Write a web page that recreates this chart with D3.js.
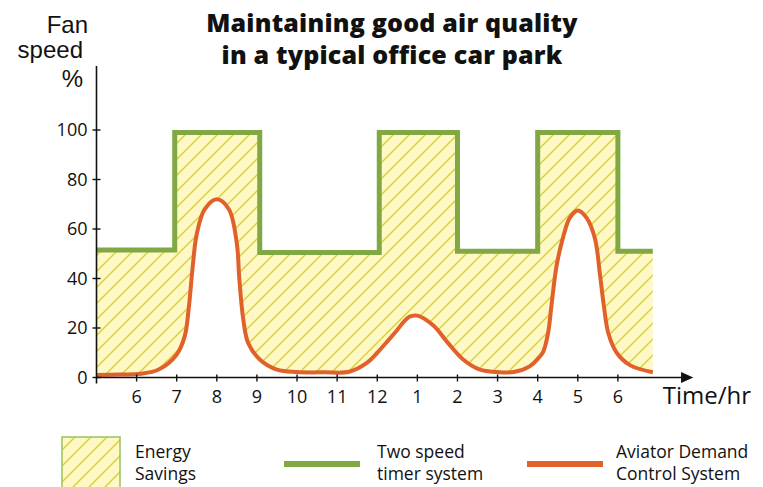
<!DOCTYPE html>
<html>
<head>
<meta charset="utf-8">
<script src="https://cdn.jsdelivr.net/npm/d3@7"></script>
<style>
  html, body { margin: 0; padding: 0; background: #fff; }
  svg { display: block; font-family: "Open Sans", "Noto Sans", sans-serif; }
</style>
</head>
<body>
<svg id="chart" width="763" height="487"></svg>
<script>
// Hour-of-day tick positions (5 = 5 am ... 18 = 6 pm) and their labels
const tickHours = [6, 7, 8, 9, 10, 11, 12, 13, 14, 15, 16, 17, 18];
const tickLabels = ["6", "7", "8", "9", "10", "11", "12", "1", "2", "3", "4", "5", "6"];
const yTicks = [0, 20, 40, 60, 80, 100];

// Two speed timer system: fan speed steps (value holds until next hour)
const timerHours = [5, 6.95, 9.07, 12.05, 14, 16, 18, 18.87];
const timerSpeed = [51.5, 99, 50.5, 99, 51, 99, 51, 51];

// Aviator demand control: measured fan speed
const demandHours = [5.0, 5.6, 6.1, 6.55, 7.0, 7.2, 7.3, 7.4, 7.5, 7.7, 8.0, 8.3, 8.5, 8.56, 8.66, 8.78, 9.07, 9.5,
                     10.0, 10.7, 11.3, 11.74,
                     12.0, 12.4, 12.8, 13.0, 13.4, 13.73, 14.14, 14.56, 15.0, 15.4,
                     15.8, 16.0, 16.14, 16.26, 16.35, 16.47, 16.64, 16.8, 17.0, 17.22, 17.43, 17.55, 17.65, 17.76,
                     17.97, 18.3, 18.87];
const demandSpeed = [1.0, 1.2, 1.5, 3.2, 9.3, 16.7, 28, 45, 58, 68, 72, 68, 54, 40, 23.4, 14, 7.3, 3.2,
                     2.2, 2.1, 2.3, 5.9,
                     10, 17.3, 24.5, 25, 21, 14.6, 7.3, 3.2, 2.2, 2.2,
                     4.5, 7.5, 10.5, 18, 30, 45, 57, 64.5, 67.5, 64.5, 56, 42, 29, 18,
                     10, 5, 2.1];

const legendItems = [
  { kind: "fill", lines: ["Energy", "Savings"] },
  { kind: "timer", lines: ["Two speed", "timer system"] },
  { kind: "demand", lines: ["Aviator Demand", "Control System"] }
];

const GREEN = "#80a843";
const ORANGE = "#e0612a";
const PALE = "#fdf8c6";
const HATCH = "#ddd02e";

const svg = d3.select("#chart");

const x = d3.scaleLinear().domain([5, 19]).range([96.5, 658]);
const y = d3.scaleLinear().domain([0, 100]).range([377.5, 130]);

// Hatched fill pattern
const defs = svg.append("defs");
const pat = defs.append("pattern")
  .attr("id", "hatch")
  .attr("patternUnits", "userSpaceOnUse")
  .attr("width", 16).attr("height", 16);
pat.append("rect").attr("width", 16).attr("height", 16).attr("fill", PALE);
pat.append("path")
  .attr("d", "M-4,4 L4,-4 M0,16 L16,0 M12,20 L20,12")
  .attr("stroke", HATCH).attr("stroke-width", 1.4);

const timerData = timerHours.map((h, i) => ({ h, v: timerSpeed[i] }));
const demandData = demandHours.map((h, i) => ({ h, v: demandSpeed[i] }));
const demandCurve = d3.curveCatmullRom.alpha(0.5);

// Energy savings region: under the timer profile, above the demand profile
svg.append("path")
  .datum(timerData)
  .attr("fill", "url(#hatch)")
  .attr("d", d3.area().curve(d3.curveStepAfter)
    .x(d => x(d.h)).y0(y(0)).y1(d => y(d.v)));

svg.append("path")
  .datum(demandData)
  .attr("fill", "#fff")
  .attr("d", d3.area().curve(demandCurve)
    .x(d => x(d.h)).y0(y(0) + 1).y1(d => y(d.v)));

// Timer system line
svg.append("path")
  .datum(timerData)
  .attr("fill", "none")
  .attr("stroke", GREEN)
  .attr("stroke-width", 5)
  .attr("stroke-linejoin", "miter")
  .attr("d", d3.line().curve(d3.curveStepAfter).x(d => x(d.h)).y(d => y(d.v)));

// Demand control line
svg.append("path")
  .datum(demandData)
  .attr("fill", "none")
  .attr("stroke", ORANGE)
  .attr("stroke-width", 4)
  .attr("stroke-linecap", "butt")
  .attr("d", d3.line().curve(demandCurve).x(d => x(d.h)).y(d => y(d.v)));

// Y axis
const yAxisG = svg.append("g").attr("transform", `translate(${x(5)},0)`);
yAxisG.append("line")
  .attr("y1", 66).attr("y2", y(0) + 6)
  .attr("stroke", "#111").attr("stroke-width", 1.6);
yAxisG.selectAll("line.tick").data(yTicks).join("line")
  .attr("class", "tick")
  .attr("x1", -4).attr("x2", 4)
  .attr("y1", d => y(d)).attr("y2", d => y(d))
  .attr("stroke", "#111").attr("stroke-width", 1.4);
yAxisG.selectAll("text").data(yTicks).join("text")
  .attr("x", -9).attr("y", d => y(d) + 6)
  .attr("text-anchor", "end")
  .attr("font-size", 18)
  .attr("fill", "#111")
  .text(d => d);

// X axis with arrow
const xAxisG = svg.append("g");
xAxisG.append("line")
  .attr("x1", x(5)).attr("x2", x(19.6))
  .attr("y1", y(0)).attr("y2", y(0))
  .attr("stroke", "#111").attr("stroke-width", 1.6);
xAxisG.append("path")
  .attr("d", `M${x(19.6) - 1},${y(0) - 5.5} L${x(19.88)},${y(0)} L${x(19.6) - 1},${y(0) + 5.5} Z`)
  .attr("fill", "#111");
xAxisG.selectAll("line.tick").data(tickHours).join("line")
  .attr("class", "tick")
  .attr("x1", d => x(d)).attr("x2", d => x(d))
  .attr("y1", y(0) - 3).attr("y2", y(0) + 4)
  .attr("stroke", "#111").attr("stroke-width", 1.4);
xAxisG.selectAll("text").data(tickHours).join("text")
  .attr("x", d => x(d)).attr("y", y(0) + 25)
  .attr("text-anchor", "middle")
  .attr("font-size", 18)
  .attr("fill", "#111")
  .text((d, i) => tickLabels[i]);

// Axis titles
svg.append("text").attr("x", 751).attr("y", 404).attr("text-anchor", "end")
  .attr("font-size", 24).attr("fill", "#111").text("Time/hr");
const yTitleFont = "'Liberation Sans', Arial, sans-serif";
svg.append("text").attr("x", 88).attr("y", 32.5).attr("text-anchor", "end")
  .attr("font-family", yTitleFont).attr("font-size", 24).attr("fill", "#111").text("Fan");
svg.append("text").attr("x", 83).attr("y", 57.5).attr("text-anchor", "end")
  .attr("font-family", yTitleFont).attr("font-size", 24).attr("fill", "#111").text("speed");
svg.append("text").attr("x", 83).attr("y", 87).attr("text-anchor", "end")
  .attr("font-family", yTitleFont).attr("font-size", 24).attr("fill", "#111").text("%");

// Chart title
const titleLines = ["Maintaining good air quality", "in a typical office car park"];
svg.selectAll("text.title").data(titleLines).join("text")
  .attr("class", "title")
  .attr("x", 392).attr("y", (d, i) => 32 + i * 32)
  .attr("text-anchor", "middle")
  .attr("font-size", 25).attr("font-weight", 800)
  .attr("letter-spacing", 0.2)
  .attr("fill", "#111")
  .text(d => d);

// Legend
const legendX = [62, 284, 527];
const legendTextX = [135, 377, 616];
legendItems.forEach((item, i) => {
  const g = svg.append("g");
  if (item.kind === "fill") {
    g.append("rect").attr("x", legendX[i]).attr("y", 437)
      .attr("width", 58).attr("height", 60)
      .attr("fill", "url(#hatch)").attr("stroke", "#9cc15c").attr("stroke-width", 1.5);
  } else {
    g.append("line").attr("x1", legendX[i]).attr("x2", legendX[i] + 76)
      .attr("y1", 464).attr("y2", 464)
      .attr("stroke", item.kind === "timer" ? GREEN : ORANGE)
      .attr("stroke-width", 6);
  }
  const label = g.append("text").attr("font-size", 17.5).attr("fill", "#111");
  item.lines.forEach((t, j) => {
    label.append("tspan").attr("x", legendTextX[i]).attr("y", 458 + j * 22).text(t);
  });
});
</script>
</body>
</html>
